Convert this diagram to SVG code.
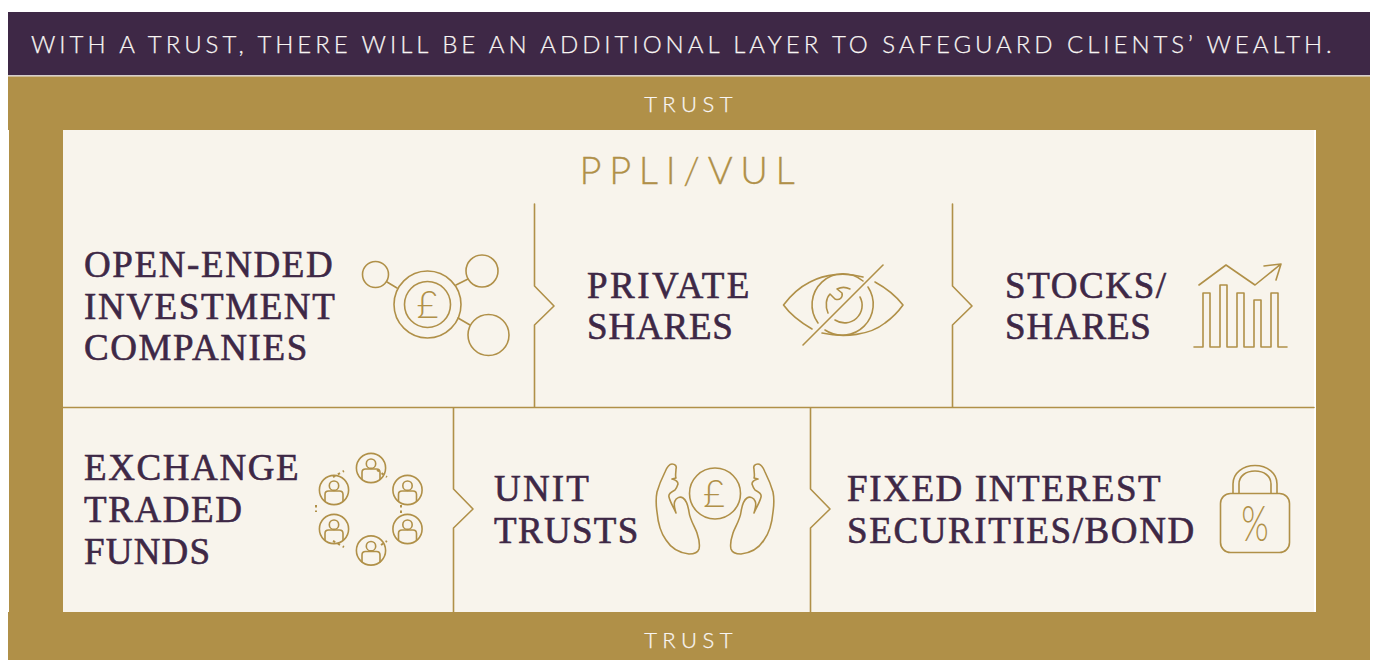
<svg xmlns="http://www.w3.org/2000/svg" width="1373" height="660" viewBox="0 0 1373 660">
<style>
.g{fill:#b09048}
.h{font-family:"Lato","Noto Sans",sans-serif;font-weight:300;fill:#f8f5f3;stroke:#f8f5f3;stroke-width:.25px;letter-spacing:3.96px;font-size:24px}
.t{font-family:"Lato","Noto Sans",sans-serif;font-weight:300;fill:#f8f5f3;stroke:#f8f5f3;stroke-width:.25px;letter-spacing:5.4px;font-size:22px;text-anchor:middle}
.l{font-family:"Liberation Serif","Times New Roman",serif;fill:#3e2846;font-size:37px;letter-spacing:1.6px;stroke:#3e2846;stroke-width:.6px}
.s,.s *{fill:none;stroke:#b09048;stroke-width:1.6px;stroke-linecap:round;stroke-linejoin:round}
.c{font-family:"Lato",sans-serif;font-weight:300;fill:#b09048;text-anchor:middle}
.d{stroke-width:2px !important;stroke-dasharray:2.500 3;stroke-linecap:butt !important}
</style>
<defs><g id="person"><circle r="14.600"/><circle cy="-4.300" r="4.700"/><path d="M-9 11.500V4.500Q-9 1-5.500 1H5.500Q9 1 9 4.500V11.500"/></g></defs>
<rect width="1373" height="660" fill="#fff"/>
<g id="banner"><rect x="8" y="12" width="1362" height="63" fill="#3e2846"/><rect x="8" y="75" width="1362" height="1.500" fill="#d5cdcb"/>
<text class="h" x="31" y="53">WITH A TRUST, THERE WILL BE AN ADDITIONAL LAYER TO SAFEGUARD CLIENTS’ WEALTH.</text></g>
<g id="trust"><rect class="g" x="8" y="76.500" width="1362" height="53.500"/><rect class="g" x="9" y="130" width="1361" height="482"/><rect class="g" x="8" y="612" width="1362" height="48"/>
<text class="t" x="691" y="112">TRUST</text><text class="t" x="691" y="648">TRUST</text></g>
<g id="ppli"><rect x="63" y="130" width="1253" height="482" fill="#fff"/><rect x="63" y="130" width="1251" height="482" fill="#f8f4ec"/>
<text x="691" y="184" font-family="Lato,'Noto Sans',sans-serif" font-weight="300" font-size="38" letter-spacing="7.700" fill="#b09048" stroke="#b09048" stroke-width=".3" text-anchor="middle">PPLI/VUL</text></g>
<g id="connectors" class="s">
<path d="M63 407.500H1314"/>
<path d="M534.500 204V286L554 306L534.500 325V407"/>
<path d="M952.500 204V286L972 306L952.500 325V407"/>
<path d="M453.500 408V489L473 509L453.500 528V612"/>
<path d="M810.500 408V489L830 509L810.500 528V612"/>
</g>
<g id="node-oeic"><text class="l"><tspan x="84" y="277">OPEN-ENDED</tspan><tspan x="84" y="319">INVESTMENT</tspan><tspan x="84" y="360">COMPANIES</tspan></text>
<g class="s"><circle cx="427.500" cy="304.500" r="33.500"/><circle cx="427.500" cy="304.500" r="23"/><circle cx="375.500" cy="274.500" r="13"/><circle cx="482" cy="271" r="16"/><circle cx="488.500" cy="335" r="20.500"/><path d="M387 282L397 288M456 285L468 279M458 318L470 325"/></g>
<text class="c" x="427.500" y="318" font-size="38">£</text></g>
<g id="node-private"><text class="l"><tspan x="587" y="298" letter-spacing="2.500">PRIVATE</tspan><tspan x="587" y="339" letter-spacing=".8">SHARES</tspan></text>
<g class="s"><path d="M863 277C845 272 825 274 810 282C800 287 791 295 783.500 305C790 314 800 322 812 329M822 333C845 338 870 335 885 323C892 318 898 312 903 305C896 296 886 288 875 282"/>
<path d="M818 323A31 31 0 0 1 863 281M868 287A31 31 0 0 1 825 330"/>
<path d="M860 297A17.500 17.500 0 0 1 835 320M828 313C825 306 826 298 830 294L835 299C840 301 843 297 842 293L837 289C841 287 846 287 850 289"/>
<path d="M883 265L803 345" stroke-width="2"/></g></g>
<g id="node-stocks"><text class="l"><tspan x="1005" y="298">STOCKS/</tspan><tspan x="1005" y="339" letter-spacing=".8">SHARES</tspan></text>
<g class="s"><path d="M1194 347H1203V293H1210V347H1220V285H1227V347H1237V293H1244V347H1254V300H1261V347H1271V293H1278V347H1287"/><path d="M1199 285L1226 265L1255 285L1281 264M1264 266L1281 264L1276 280"/></g></g>
<g id="node-etf"><text class="l"><tspan x="84" y="480">EXCHANGE</tspan><tspan x="84" y="522">TRADED</tspan><tspan x="84" y="564" letter-spacing="1.200">FUNDS</tspan></text>
<g class="s" id="etf-icons">
<use href="#person" x="371" y="468"/><use href="#person" x="407.500" y="490"/><use href="#person" x="407.500" y="529"/><use href="#person" x="371" y="550.500"/><use href="#person" x="334" y="529"/><use href="#person" x="334" y="490"/>
<path class="d" d="M333 477L344 471M377 470L387 477M401 505V513M381 545L387 541M333 541L344 547M316 505V512"/></g></g>
<g id="node-unit"><text class="l"><tspan x="494" y="501" letter-spacing="2.200">UNIT</tspan><tspan x="494" y="543" letter-spacing="1.300">TRUSTS</tspan></text>
<g class="s"><circle cx="715" cy="493.500" r="25.500"/>
<path d="M672 464C675 464 677 466 676 469C676 472 675 476 676 478L672 479C676 480 678 482 678 484C677 487 676 489 675 490C671 492 668 494 669 497C670 502 674 508 676 513C675 509 673 504 675 501C676 498 680 496 683 498C686 500 688 505 689 512C690 520 695 527 697 533C699 539 700 545 699 549C698 552 694 554 689 554C680 553 671 548 666 540C660 532 658 523 657 512C656 505 656 497 657 492C659 485 662 478 665 472C667 467 669 464 672 464Z"/>
<path d="M758 464C755 464 753 466 754 469C754 472 755 476 754 478L758 479C754 480 752 482 752 484C753 487 754 489 755 490C759 492 762 494 761 497C760 502 756 508 754 513C755 509 757 504 755 501C754 498 750 496 747 498C744 500 742 505 741 512C740 520 735 527 733 533C731 539 730 545 731 549C732 552 736 554 741 554C750 553 759 548 764 540C770 532 772 523 773 512C774 505 774 497 773 492C771 485 768 478 765 472C763 467 761 464 758 464Z"/></g>
<text class="c" x="714" y="507" font-size="38">£</text></g>
<g id="node-fixed"><text class="l"><tspan x="847" y="501">FIXED INTEREST</tspan><tspan x="847" y="543">SECURITIES/BOND</tspan></text>
<g class="s"><rect x="1220.500" y="493.500" width="69" height="59" rx="10"/><path d="M1233 493V484C1233 473 1243 465.500 1255 465.500C1267 465.500 1277 473 1277 484V493M1239 493V484C1239 476 1246 471 1255 471C1264 471 1271 476 1271 484V493"/></g>
<text transform="translate(1255 541) scale(.72 1)" font-family="Lato,'Noto Sans',sans-serif" font-weight="300" font-size="49" fill="#b09048" text-anchor="middle">%</text></g>
</svg>
